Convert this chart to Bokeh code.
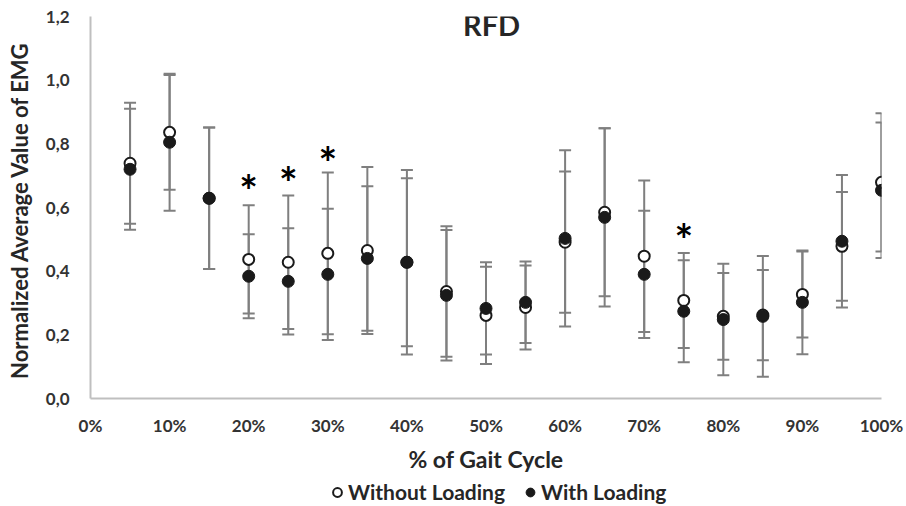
from bokeh.plotting import figure
from bokeh.layouts import column
from bokeh.models import Range1d, FixedTicker, Legend, LegendItem, Label
from bokeh.core.properties import value
from bokeh.embed import file_html
from bokeh.resources import INLINE

# ---- data ----
gait_pct = [5, 10, 15, 20, 25, 30, 35, 40, 45, 50,
            55, 60, 65, 70, 75, 80, 85, 90, 95, 100]
without_mean = [0.739, 0.836, 0.629, 0.437, 0.428, 0.456, 0.465, 0.428, 0.336, 0.261,
                0.286, 0.491, 0.585, 0.447, 0.308, 0.258, 0.262, 0.327, 0.478, 0.679]
without_err = [0.190, 0.180, 0.222, 0.170, 0.210, 0.254, 0.262, 0.290, 0.205, 0.153,
               0.132, 0.222, 0.264, 0.238, 0.149, 0.136, 0.142, 0.135, 0.171, 0.217]
with_mean = [0.720, 0.805, 0.629, 0.384, 0.368, 0.390, 0.440, 0.428, 0.324, 0.283,
             0.302, 0.503, 0.569, 0.390, 0.274, 0.248, 0.258, 0.302, 0.494, 0.654]
with_err = [0.190, 0.215, 0.222, 0.132, 0.167, 0.206, 0.227, 0.264, 0.205, 0.145,
            0.128, 0.277, 0.280, 0.200, 0.160, 0.175, 0.190, 0.163, 0.208, 0.213]
sig_pct = [20, 25, 30, 75]
sig_y = [0.686, 0.711, 0.774, 0.531]
x_ticks = [0, 10, 20, 30, 40, 50, 60, 70, 80, 90, 100]
x_tick_labels = ["0%", "10%", "20%", "30%", "40%", "50%", "60%", "70%", "80%", "90%", "100%"]
y_ticks = [0.0, 0.2, 0.4, 0.6, 0.8, 1.0, 1.2]
y_tick_labels = ["0,0", "0,2", "0,4", "0,6", "0,8", "1,0", "1,2"]
series_names = ["Without Loading", "With Loading"]

FONT = "Lato"
DARK = "#262626"
BAR = "#7f7f7f"
OPEN_STYLE = dict(size=11, fill_color="white", line_color="#1a1a1a", line_width=2)
FILL_STYLE = dict(size=12, fill_color="#1a1a1a", line_color="#1a1a1a", line_width=1)

p = figure(width=906, height=478, x_range=Range1d(0, 100), y_range=Range1d(0, 1.2),
           output_backend="svg", toolbar_location=None,
           min_border_left=90, min_border_right=25, min_border_top=16, min_border_bottom=80)
p.outline_line_color = None
p.grid.visible = False

for ax in (p.xaxis[0], p.yaxis[0]):
    ax.axis_line_color = "#bfbfbf"
    ax.axis_line_width = 2
    ax.major_tick_line_color = None
    ax.minor_tick_line_color = None
    ax.major_label_text_font = FONT
    ax.major_label_text_font_style = "bold"
    ax.major_label_text_font_size = "17px"
    ax.major_label_text_color = "#333333"
    ax.axis_label_text_font = FONT
    ax.axis_label_text_font_style = "bold"
    ax.axis_label_text_color = DARK

p.xaxis.ticker = FixedTicker(ticks=x_ticks)
p.xaxis.major_label_overrides = dict(zip(x_ticks, x_tick_labels))
p.yaxis.ticker = FixedTicker(ticks=y_ticks)
p.yaxis.major_label_overrides = dict(zip(y_ticks, y_tick_labels))

p.xaxis.axis_label = "% of Gait Cycle"
p.xaxis.axis_label_text_font_size = "23px"
p.xaxis.major_label_standoff = 10
p.xaxis.axis_label_standoff = 6
p.yaxis.axis_label = "Normalized Average Value  of EMG"
p.yaxis.axis_label_text_font_size = "22px"
p.yaxis.major_label_standoff = 15
p.yaxis.axis_label_standoff = 10

# error bars
w_lo = [m - e for m, e in zip(without_mean, without_err)]
w_hi = [m + e for m, e in zip(without_mean, without_err)]
l_lo = [m - e for m, e in zip(with_mean, with_err)]
l_hi = [m + e for m, e in zip(with_mean, with_err)]
for lo, hi in ((w_lo, w_hi), (l_lo, l_hi)):
    p.segment(x0=gait_pct, y0=lo, x1=gait_pct, y1=hi, line_color=BAR, line_width=2)
    p.scatter(x=gait_pct, y=hi, marker="dash", size=12, line_color=BAR, line_width=2)
    p.scatter(x=gait_pct, y=lo, marker="dash", size=12, line_color=BAR, line_width=2)

p.scatter(x=gait_pct, y=without_mean, **OPEN_STYLE)
p.scatter(x=gait_pct, y=with_mean, **FILL_STYLE)

# significance markers
p.text(x=sig_pct, y=sig_y, text=["*"] * len(sig_pct), text_align="center",
       text_baseline="alphabetic", y_offset=10, text_font=value(FONT),
       text_font_style="bold", text_font_size="44px", text_color="black")

p.add_layout(Label(x=50.7, y=1.175, text="RFD", text_align="center", text_baseline="alphabetic",
                   text_font=FONT, text_font_style="bold", text_font_size="29px",
                   text_color=DARK))

# legend strip (its frame is aligned with the main plot's frame by the column layout)
nan = float("nan")
lg = figure(width=906, height=28, x_range=Range1d(0, 1), y_range=Range1d(0, 1),
            output_backend="svg", toolbar_location=None, min_border=0,
            x_axis_location=None, y_axis_location=None)
lg.grid.visible = False
lg.outline_line_color = None
r_open = lg.scatter(x=[nan], y=[nan], **OPEN_STYLE)
r_fill = lg.scatter(x=[nan], y=[nan], **FILL_STYLE)
legend = Legend(items=[LegendItem(label=series_names[0], renderers=[r_open]),
                       LegendItem(label=series_names[1], renderers=[r_fill])],
                orientation="horizontal", location=(236, 2),
                border_line_color=None, background_fill_alpha=0,
                label_text_font=FONT, label_text_font_style="bold",
                label_text_font_size="21px", label_text_color=DARK,
                glyph_width=22, glyph_height=22, label_standoff=-3,
                spacing=14, padding=0, margin=0)
lg.add_layout(legend, "center")

layout = column(p, lg, spacing=0)
open("out.html", "w").write(file_html(layout, INLINE))
